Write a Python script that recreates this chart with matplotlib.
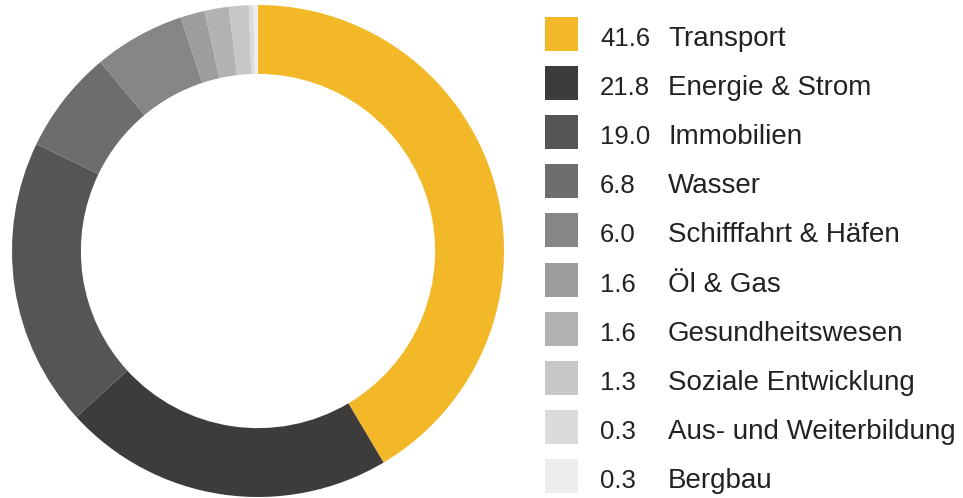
import matplotlib
matplotlib.use('Agg')
import matplotlib.pyplot as plt
from matplotlib.patches import Rectangle

# Anteile nach Sektor
labels = ['Transport', 'Energie & Strom', 'Immobilien', 'Wasser', 'Schifffahrt & Häfen',
          'Öl & Gas', 'Gesundheitswesen', 'Soziale Entwicklung', 'Aus- und Weiterbildung', 'Bergbau']
values = [41.6, 21.8, 19.0, 6.8, 6.0, 1.6, 1.6, 1.3, 0.3, 0.3]
value_labels = ['41.6', '21.8', '19.0', '6.8', '6.0', '1.6', '1.6', '1.3', '0.3', '0.3']
colors = ['#f2b827', '#3d3c3b', '#555555', '#6d6d6d', '#868686',
          '#9d9d9d', '#b2b2b2', '#c7c7c7', '#dbdbdb', '#ededed']

plt.rcParams['font.family'] = ['Liberation Sans', 'DejaVu Sans']

W, H = 963, 498
fig = plt.figure(figsize=(W / 100, H / 100), dpi=100)

# donut
ax = fig.add_axes([12 / W, 1 / H, 492 / W, 492 / H])
ax.pie(values, colors=colors, startangle=90, counterclock=False, radius=1,
       wedgeprops=dict(width=0.28, linewidth=0))
ax.set_xlim(-1, 1)
ax.set_ylim(-1, 1)
ax.set_aspect('equal')
ax.axis('off')

# legende
y0, step = 34, 49.1
for i in range(len(labels)):
    yc = y0 + step * i
    fig.patches.append(Rectangle((545 / W, (H - yc - 17) / H), 33 / W, 34 / H,
                                 transform=fig.transFigure, color=colors[i], lw=0))
    fig.text(600 / W, (H - yc - 12) / H, value_labels[i], fontsize=18.5, color='#222222',
             va='baseline', ha='left')
    fig.text(668 / W, (H - yc - 12) / H, labels[i], fontsize=20, color='#222222',
             va='baseline', ha='left')

fig.savefig('out.png', dpi=100)
